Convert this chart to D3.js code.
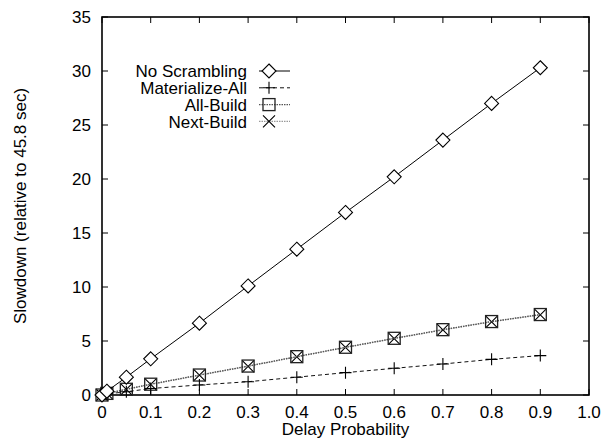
<!DOCTYPE html>
<html>
<head>
<meta charset="utf-8">
<script src="https://cdn.jsdelivr.net/npm/d3@7/dist/d3.min.js"></script>
<style>
  html, body { margin: 0; padding: 0; background: #fff; }
  svg text { font-family: "Liberation Sans", Arial, sans-serif; fill: #000; }
</style>
</head>
<body>
<svg id="chart" width="601" height="438"></svg>
<script>
// Delay probability (x) for each measured run
const probs = [0, 0.01, 0.05, 0.1, 0.2, 0.3, 0.4, 0.5, 0.6, 0.7, 0.8, 0.9];

// Slowdown per strategy, relative to the 45.8 s baseline
const noScrambling   = [0, 0.35, 1.65, 3.35, 6.65, 10.1, 13.5, 16.9, 20.2, 23.6, 27.0, 30.3];
const materializeAll = [0, 0.1, 0.3, 0.6, 0.93, 1.23, 1.65, 2.07, 2.47, 2.87, 3.3, 3.65];
const allBuild       = [0, 0.15, 0.53, 1.0, 1.85, 2.68, 3.55, 4.42, 5.25, 6.05, 6.8, 7.45];
const nextBuild      = [0, 0.15, 0.52, 0.98, 1.83, 2.66, 3.53, 4.4, 5.22, 6.02, 6.78, 7.42];

const seriesNames = ["No Scrambling", "Materialize-All", "All-Build", "Next-Build"];

const xTicks = [0, 0.1, 0.2, 0.3, 0.4, 0.5, 0.6, 0.7, 0.8, 0.9, 1.0];
const yTicks = [0, 5, 10, 15, 20, 25, 30, 35];

const xTitle = "Delay Probability";
const yTitle = "Slowdown (relative to 45.8 sec)";

const svg = d3.select("#chart");
const m = { left: 102, right: 589, top: 17, bottom: 395 };

const x = d3.scaleLinear().domain([0, 1]).range([m.left, m.right]);
const y = d3.scaleLinear().domain([0, 35]).range([m.bottom, m.top]);

const fontSize = 17;
const tickLen = 6;

// Tick marks on all four sides (inward), labels on bottom and left
const axisG = svg.append("g");
xTicks.forEach(t => {
  axisG.append("line").attr("x1", x(t)).attr("x2", x(t))
    .attr("y1", m.bottom).attr("y2", m.bottom - tickLen).attr("stroke", "#000");
  axisG.append("line").attr("x1", x(t)).attr("x2", x(t))
    .attr("y1", m.top).attr("y2", m.top + tickLen).attr("stroke", "#000");
  axisG.append("text").attr("x", x(t)).attr("y", 418)
    .attr("text-anchor", "middle").attr("font-size", fontSize)
    .text(t === 0 ? "0" : d3.format(".1f")(t));
});
yTicks.forEach(t => {
  axisG.append("line").attr("x1", m.left).attr("x2", m.left + tickLen)
    .attr("y1", y(t)).attr("y2", y(t)).attr("stroke", "#000");
  axisG.append("line").attr("x1", m.right).attr("x2", m.right - tickLen)
    .attr("y1", y(t)).attr("y2", y(t)).attr("stroke", "#000");
  axisG.append("text").attr("x", 91).attr("y", y(t)).attr("dy", "0.36em")
    .attr("text-anchor", "end").attr("font-size", fontSize)
    .text(t);
});

// Plot border
axisG.append("rect").attr("x", m.left).attr("y", m.top)
  .attr("width", m.right - m.left).attr("height", m.bottom - m.top)
  .attr("fill", "none").attr("stroke", "#000").attr("stroke-width", 1.6);

// Axis titles
svg.append("text").attr("x", (m.left + m.right) / 2).attr("y", 435)
  .attr("text-anchor", "middle").attr("font-size", fontSize).text(xTitle);
svg.append("text")
  .attr("transform", `translate(26,${(m.top + m.bottom) / 2}) rotate(-90)`)
  .attr("text-anchor", "middle").attr("font-size", fontSize).text(yTitle);

// Marker shapes
function drawMarker(g, kind, cx, cy) {
  if (kind === "diamond") {
    const r = 7;
    g.append("path")
      .attr("d", `M${cx},${cy - r}L${cx + r},${cy}L${cx},${cy + r}L${cx - r},${cy}Z`)
      .attr("fill", "#fff").attr("stroke", "#000").attr("stroke-width", 1.1);
  } else if (kind === "plus") {
    const r = 6;
    g.append("path")
      .attr("d", `M${cx - r},${cy}H${cx + r}M${cx},${cy - r}V${cy + r}`)
      .attr("stroke", "#000").attr("stroke-width", 1.1);
  } else if (kind === "box") {
    const r = 6;
    g.append("rect").attr("x", cx - r).attr("y", cy - r)
      .attr("width", 2 * r).attr("height", 2 * r)
      .attr("fill", "none").attr("stroke", "#222").attr("stroke-width", 1.3);
  } else if (kind === "cross") {
    const r = 6;
    g.append("path")
      .attr("d", `M${cx - r},${cy - r}L${cx + r},${cy + r}M${cx - r},${cy + r}L${cx + r},${cy - r}`)
      .attr("stroke", "#000").attr("stroke-width", 1.1);
  }
}

const series = [
  { name: seriesNames[0], values: noScrambling,   marker: "diamond", color: "#000", dash: null,  width: 1 },
  { name: seriesNames[1], values: materializeAll, marker: "plus",    color: "#111", dash: "4,3", width: 1 },
  { name: seriesNames[2], values: allBuild,       marker: "box",     color: "#555", dash: "1.5,1", width: 1.3 },
  { name: seriesNames[3], values: nextBuild,      marker: "cross",   color: "#999", dash: "1.5,1", width: 1.3 }
];

const line = d3.line().x(d => x(d[0])).y(d => y(d[1]));

// Draw lines in reverse so the solid series lies on top
const plotG = svg.append("g");
series.slice().reverse().forEach(s => {
  const pts = probs.map((p, i) => [p, s.values[i]]);
  plotG.append("path").attr("d", line(pts))
    .attr("fill", "none").attr("stroke", s.color)
    .attr("stroke-width", s.width)
    .attr("stroke-dasharray", s.dash);
  const mg = plotG.append("g");
  pts.forEach(d => drawMarker(mg, s.marker, x(d[0]), y(d[1])));
});

// Legend
const legendG = svg.append("g");
const legendY0 = 71, legendStep = 16.8;
series.forEach((s, i) => {
  const ly = legendY0 + i * legendStep;
  legendG.append("text").attr("x", 247).attr("y", ly).attr("dy", "0.36em")
    .attr("text-anchor", "end").attr("font-size", fontSize).text(s.name);
  legendG.append("line").attr("x1", 259).attr("x2", 290)
    .attr("y1", ly).attr("y2", ly)
    .attr("stroke", s.color).attr("stroke-width", s.width)
    .attr("stroke-dasharray", s.dash);
  drawMarker(legendG, s.marker, 269, ly);
});
</script>
</body>
</html>
